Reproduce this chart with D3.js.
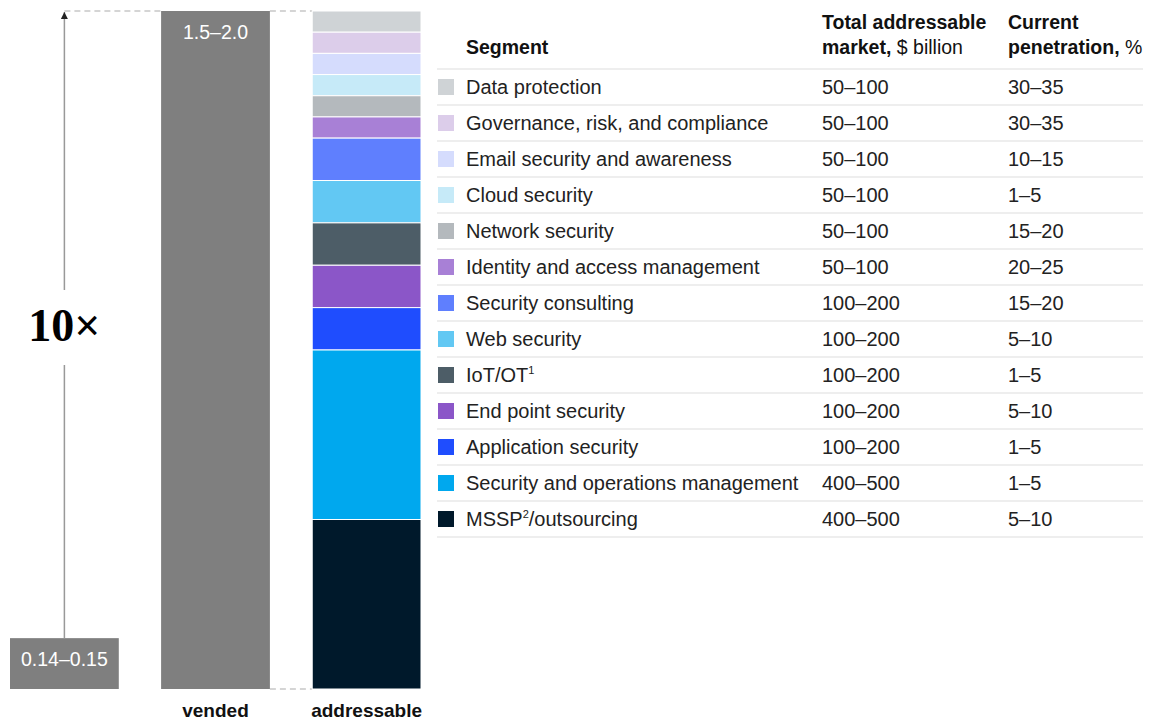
<!DOCTYPE html>
<html lang="en">
<head>
    <meta charset="UTF-8">
    <title>Cybersecurity market</title>
    <style>
      body { margin: 0; background: #fff; }
      svg { display: block; font-family: "Liberation Sans", Arial, sans-serif; }
    </style>
</head>
<body>
    <svg></svg>
    <script src="https://d3js.org/d3.v7.min.js"></script>
    <script>
      const segments = [
        "Data protection",
        "Governance, risk, and compliance",
        "Email security and awareness",
        "Cloud security",
        "Network security",
        "Identity and access management",
        "Security consulting",
        "Web security",
        "IoT/OT|1",
        "End point security",
        "Application security",
        "Security and operations management",
        "MSSP|2|/outsourcing"
      ]
      // lower end of each market range, used for the stack heights
      const tamLow = [50, 50, 50, 50, 50, 50, 100, 100, 100, 100, 100, 400, 400]
      const tamLabels = ["50–100", "50–100", "50–100", "50–100", "50–100", "50–100",
        "100–200", "100–200", "100–200", "100–200", "100–200", "400–500", "400–500"]
      const penetration = ["30–35", "30–35", "10–15", "1–5", "15–20", "20–25",
        "15–20", "5–10", "1–5", "5–10", "1–5", "1–5", "5–10"]
      const colors = ["#cfd3d6", "#dccdea", "#d5dcfd", "#c6eaf8", "#b4b9bd", "#a880d6",
        "#5f7ffe", "#62c8f3", "#4d5d67", "#8b56c8", "#1f4dfe", "#00a8ee", "#00192b"]

      const marketBars = ["current", "vended"]
      const marketValues = [0.15, 2.0]
      const marketLabels = ["0.14–0.15", "1.5–2.0"]
      const columns = ["current", "vended", "addressable"]

      const width = 1154, height = 722
      const yTop = 11, yBottom = 689

      const svg = d3.select("svg").attr("width", width).attr("height", height)

      const x = d3.scaleBand().domain(columns).range([10, 421]).paddingInner(0.28)
      const yMarket = d3.scaleLinear().domain([0, 2.0]).range([yBottom, yTop])
      // stack is read from the top down
      const yStack = d3.scaleLinear().domain([0, d3.sum(tamLow)]).range([yTop, yBottom])

      // dashed guides
      const dash = svg.append("g").attr("stroke", "#c8c8c8").attr("stroke-width", 1.3)
          .attr("stroke-dasharray", "6,4").attr("fill", "none")
      dash.append("line")
          .attr("x1", x("current") + x.bandwidth() / 2).attr("x2", x("vended"))
          .attr("y1", yMarket(2.0)).attr("y2", yMarket(2.0))
      dash.append("line")
          .attr("x1", x("vended") + x.bandwidth()).attr("x2", x("addressable"))
          .attr("y1", yMarket(2.0)).attr("y2", yMarket(2.0))
      dash.append("line")
          .attr("x1", x("vended") + x.bandwidth()).attr("x2", x("addressable"))
          .attr("y1", yMarket(0)).attr("y2", yMarket(0))

      // gray market bars
      const mb = svg.append("g").selectAll("g").data(marketBars).join("g")
      mb.append("rect")
          .attr("x", d => x(d))
          .attr("y", (d, i) => yMarket(marketValues[i]))
          .attr("width", x.bandwidth())
          .attr("height", (d, i) => yMarket(0) - yMarket(marketValues[i]))
          .attr("fill", "#7f7f7f")
      mb.append("text")
          .attr("x", d => x(d) + x.bandwidth() / 2)
          .attr("y", (d, i) => yMarket(marketValues[i]) + 28)
          .attr("text-anchor", "middle")
          .attr("fill", "#fff").attr("font-size", 19.5)
          .text((d, i) => marketLabels[i])

      // 10x arrow
      const ax = x("current") + x.bandwidth() / 2
      svg.append("defs").append("marker")
          .attr("id", "head").attr("viewBox", "0 0 10 10")
          .attr("refX", 5).attr("refY", 0)
          .attr("markerWidth", 7).attr("markerHeight", 11)
          .attr("markerUnits", "userSpaceOnUse").attr("orient", "0")
          .append("path").attr("d", "M0,10 L5,0 L10,10 Z").attr("fill", "#222")
      svg.append("line")
          .attr("x1", ax).attr("x2", ax)
          .attr("y1", yMarket(0.15)).attr("y2", 365)
          .attr("stroke", "#999").attr("stroke-width", 1.5)
      svg.append("line")
          .attr("x1", ax).attr("x2", ax)
          .attr("y1", 290).attr("y2", yMarket(2.0) + 1)
          .attr("stroke", "#999").attr("stroke-width", 1.5)
          .attr("marker-end", "url(#head)")
      svg.append("text")
          .attr("x", ax).attr("y", 341)
          .attr("text-anchor", "middle")
          .attr("font-family", "'Liberation Serif', 'DejaVu Serif', serif")
          .attr("font-weight", "bold").attr("font-size", 46)
          .text("10×")

      // addressable stack
      let acc = 0
      const stack = tamLow.map((v, i) => { const s = { i, y0: acc, y1: acc + v }; acc += v; return s })
      svg.append("g").selectAll("rect").data(stack).join("rect")
          .attr("x", x("addressable"))
          .attr("width", x.bandwidth())
          .attr("y", d => yStack(d.y0))
          .attr("height", d => yStack(d.y1) - yStack(d.y0))
          .attr("fill", d => colors[d.i])
          .attr("stroke", "#fff").attr("stroke-width", 1)

      // column labels
      svg.append("g").selectAll("text").data(["vended", "addressable"]).join("text")
          .attr("x", d => x(d) + x.bandwidth() / 2)
          .attr("y", 717)
          .attr("text-anchor", "middle")
          .attr("font-weight", "bold").attr("font-size", 19).attr("fill", "#111")
          .text(d => d)

      // table
      const tx = { swatch: 437, name: 466, tam: 822, pen: 1008, end: 1143 }
      const rowY = d3.scaleBand().domain(d3.range(segments.length)).range([69, 69 + 36 * segments.length])

      const head = svg.append("g").attr("font-size", 19.5).attr("fill", "#111")
      head.append("text").attr("x", tx.name).attr("y", 54).attr("font-weight", "bold").text("Segment")
      head.append("text").attr("x", tx.tam).attr("y", 29).attr("font-weight", "bold").text("Total addressable")
      const h2 = head.append("text").attr("x", tx.tam).attr("y", 54)
      h2.append("tspan").attr("font-weight", "bold").text("market,")
      h2.append("tspan").text(" $ billion")
      head.append("text").attr("x", tx.pen).attr("y", 29).attr("font-weight", "bold").text("Current")
      const h3 = head.append("text").attr("x", tx.pen).attr("y", 54)
      h3.append("tspan").attr("font-weight", "bold").text("penetration,")
      h3.append("tspan").text(" %")

      const rows = svg.append("g").selectAll("g").data(segments).join("g")
          .attr("transform", (d, i) => `translate(0,${rowY(i)})`)
      rows.append("line")
          .attr("x1", tx.swatch).attr("x2", tx.end)
          .attr("y1", 0).attr("y2", 0)
          .attr("stroke", "#ddd").attr("stroke-width", 1)
      rows.append("rect")
          .attr("x", tx.swatch + 1).attr("y", 10).attr("width", 16).attr("height", 16)
          .attr("fill", (d, i) => colors[i])
      const nameText = rows.append("text")
          .attr("x", tx.name).attr("y", 25)
          .attr("font-size", 20).attr("fill", "#222")
      nameText.each(function (d) {
        const parts = d.split("|")
        const t = d3.select(this)
        parts.forEach((p, k) => {
          const sp = t.append("tspan").text(p)
          if (k === 1) sp.attr("font-size", 11).attr("dy", -8)
          if (k === 2) sp.attr("dy", 8)
        })
      })
      rows.append("text")
          .attr("x", tx.tam).attr("y", 25)
          .attr("font-size", 20).attr("fill", "#222")
          .text((d, i) => tamLabels[i])
      rows.append("text")
          .attr("x", tx.pen).attr("y", 25)
          .attr("font-size", 20).attr("fill", "#222")
          .text((d, i) => penetration[i])
      svg.append("line")
          .attr("x1", tx.swatch).attr("x2", tx.end)
          .attr("y1", rowY.range()[1]).attr("y2", rowY.range()[1])
          .attr("stroke", "#ddd").attr("stroke-width", 1)
    </script>
</body>
</html>
